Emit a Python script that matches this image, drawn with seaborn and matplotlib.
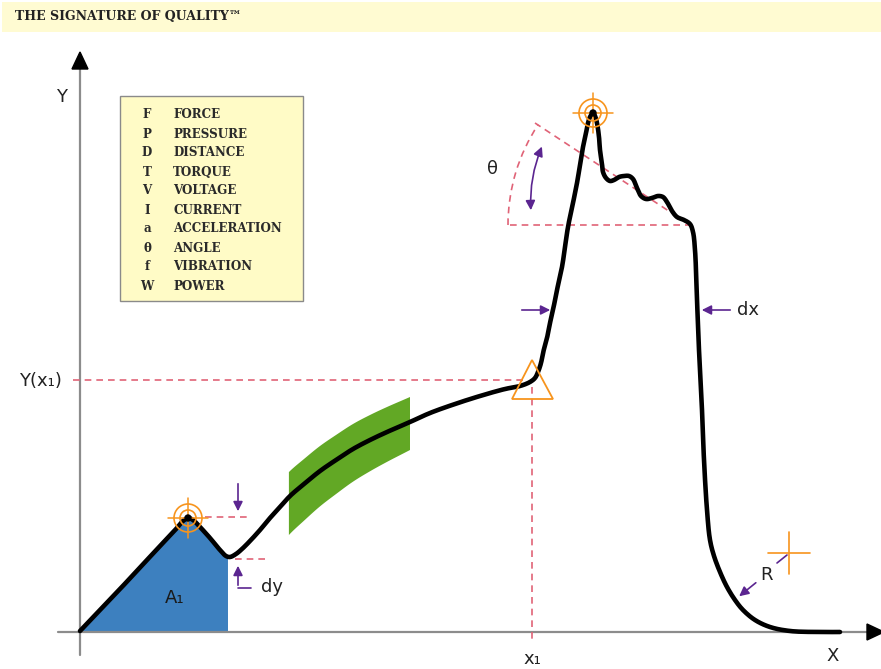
import numpy as np
import pandas as pd
import seaborn as sns
import matplotlib.pyplot as plt
from matplotlib.patches import Circle, Polygon, Rectangle, Arc

# signature curve (pixel coords, y grows downward)
curve_x = [80, 120, 160, 176, 183, 188, 193, 200, 210, 220, 226, 230, 236, 242,
           250, 260, 270, 280, 290, 304, 320, 336, 353, 370, 387, 410, 430, 455,
           480, 505, 520, 530, 535, 538, 541, 543, 547, 550, 553, 557, 562, 568,
           573, 577, 580, 583, 586, 588, 590, 593, 595, 597, 599, 600, 602, 603,
           606, 610, 614, 619, 624, 629, 633, 637, 641, 646, 652, 658, 663, 667,
           672, 677, 684, 690, 693, 695, 697, 699, 702, 704, 707, 710, 714, 720,
           727, 735, 743, 755, 770, 790, 820, 840]
curve_y = [631, 589, 546, 529, 521, 518, 520, 527, 538, 550, 556, 557, 554, 549,
           541, 530, 518, 507, 496, 484, 471, 460, 449, 440, 432, 422, 413, 404,
           396, 389, 386, 382, 378, 372, 363, 353, 338, 323, 310, 290, 267, 227,
           203, 183, 165, 147, 133, 123, 117, 113, 116, 123, 137, 150, 164, 172,
           178, 181, 180, 177, 176, 176, 179, 188, 196, 199, 198, 196, 197, 202,
           211, 217, 220, 224, 232, 250, 300, 350, 410, 460, 510, 540, 556, 572,
           587, 600, 610, 620, 627, 631, 632, 632]

legend_keys = ["F", "P", "D", "T", "V", "I", "a", "θ", "f", "W"]
legend_names = ["FORCE", "PRESSURE", "DISTANCE", "TORQUE", "VOLTAGE",
                "CURRENT", "ACCELERATION", "ANGLE", "VIBRATION", "POWER"]

origin = (80, 632)
peak1 = (188, 518)
valley1 = (230, 557)
peak2 = (593, 113)
x1_point = (532, 380)
r_point = (789, 553)

GRAY = "#8c8c8c"
RED = "#e06377"
ORANGE = "#f7941d"
PURPLE = "#5b2590"
BLUE = "#3d80bf"
GREEN = "#62a825"


def smooth(xs, ys, n=10):
    # centripetal catmull-rom through the read points, only for drawing
    P = np.column_stack([xs, ys]).astype(float)
    P = np.vstack([2 * P[0] - P[1], P, 2 * P[-1] - P[-2]])
    out = []
    for i in range(1, len(P) - 2):
        p0, p1, p2, p3 = P[i - 1:i + 3]
        t0 = 0.0
        t1 = t0 + np.linalg.norm(p1 - p0) ** 0.5
        t2 = t1 + np.linalg.norm(p2 - p1) ** 0.5
        t3 = t2 + np.linalg.norm(p3 - p2) ** 0.5
        t = np.linspace(t1, t2, n, endpoint=False)[:, None]
        a1 = (t1 - t) / (t1 - t0) * p0 + (t - t0) / (t1 - t0) * p1
        a2 = (t2 - t) / (t2 - t1) * p1 + (t - t1) / (t2 - t1) * p2
        a3 = (t3 - t) / (t3 - t2) * p2 + (t - t2) / (t3 - t2) * p3
        b1 = (t2 - t) / (t2 - t0) * a1 + (t - t0) / (t2 - t0) * a2
        b2 = (t3 - t) / (t3 - t1) * a2 + (t - t1) / (t3 - t1) * a3
        out.append((t2 - t) / (t2 - t1) * b1 + (t - t1) / (t2 - t1) * b2)
    out.append(P[-2][None])
    return np.vstack(out)


sns.set_style("white")
fig = plt.figure(figsize=(8.81, 6.69), dpi=100)
ax = fig.add_axes([0, 0, 1, 1])
ax.axis("off")

sm = smooth(curve_x, curve_y)
df = pd.DataFrame({"x": sm[:, 0], "y": sm[:, 1]})

# header band
ax.add_patch(Rectangle((2, 2), 879, 30, facecolor="#fffbd2", edgecolor="none", zorder=0.5))
ax.text(15, 17, "THE SIGNATURE OF QUALITY™", family="DejaVu Serif",
        weight="bold", fontsize=9.0, va="center", color="#222222")

# area A1
left = df[df.x <= 228].to_numpy()
left = np.vstack([left, [[228, origin[1]], [origin[0], origin[1]]]])
ax.add_patch(Polygon(left, closed=True, color=BLUE, lw=0, zorder=0.5))

# green tolerance band around the curve
band = df[(df.x >= 288) & (df.x <= 410)]
frac = (band.x - 288) / (410 - 288)
top = np.column_stack([band.x, band.y - 25])
bot = np.column_stack([band.x, band.y + 38 - 10 * frac])[::-1]
ax.add_patch(Polygon(np.vstack([top, bot]), closed=True, color=GREEN, lw=0, zorder=0.5))

# axes
ax.plot([origin[0], origin[0]], [655, 66], color=GRAY, lw=1.6, zorder=3)
ax.plot([58, 868], [origin[1], origin[1]], color=GRAY, lw=1.6, zorder=3)
ax.add_patch(Polygon([(72, 69), (88, 69), (80, 52)], color="black", zorder=4))
ax.add_patch(Polygon([(867, 624), (867, 640), (884, 632)], color="black", zorder=4))
ax.text(62, 97, "Y", fontsize=13, ha="center", va="center", color="#222222")
ax.text(833, 656, "X", fontsize=13, ha="center", va="center", color="#222222")

# Y(x1) / x1 reference lines
dash = dict(color=RED, lw=1.2, ls=(0, (4, 3)), zorder=3)
ax.plot([73, 525], [x1_point[1], x1_point[1]], **dash)
ax.plot([x1_point[0], x1_point[0]], [387, 643], **dash)
ax.text(40, 381, "Y(x₁)", fontsize=13, ha="center", va="center", color="#222222")
ax.text(x1_point[0], 659, "x₁", fontsize=13, ha="center", va="center", color="#222222")

# dy marks
ax.plot([205, 250], [peak1[1] - 1, peak1[1] - 1], **dash)
ax.plot([235, 266], [valley1[1] + 2, valley1[1] + 2], **dash)
arr = dict(arrowstyle="-|>", color=PURPLE, lw=1.2, mutation_scale=14)
ax.annotate("", xy=(238, 514), xytext=(238, 481), arrowprops=arr, zorder=5)
ax.annotate("", xy=(238, 563), xytext=(238, 588), arrowprops=arr, zorder=5)
ax.plot([238, 251], [588, 588], color=PURPLE, lw=1.2)
ax.text(272, 587, "dy", fontsize=13, ha="center", va="center", color="#222222")
ax.text(175, 598, "A₁", fontsize=13, ha="center", va="center", color="#1a1a1a")

# theta sector
cx, cy, rad = 690, 225, 182
ax.plot([510, cx], [cy, cy], **dash)
ax.plot([535, cx], [123, cy], **dash)
ax.add_patch(Arc((cx, cy), 2 * rad, 2 * rad, theta1=180, theta2=213.5,
                 color=RED, lw=1.2, ls=(0, (4, 3)), zorder=3))
ax.annotate("", xy=(543, 144), xytext=(531, 213),
            arrowprops=dict(arrowstyle="<|-|>", color=PURPLE, lw=1.2,
                            mutation_scale=14, connectionstyle="arc3,rad=-0.12"),
            zorder=5)
ax.text(493, 169, "θ", fontsize=13, ha="center", va="center", color="#222222")

# dx arrows
ax.annotate("", xy=(553, 310), xytext=(519, 310), arrowprops=arr, zorder=5)
ax.annotate("", xy=(699, 310), xytext=(733, 310), arrowprops=arr, zorder=5)
ax.text(748, 310, "dx", fontsize=13, ha="center", va="center", color="#222222")

# main curve
sns.lineplot(data=df, x="x", y="y", sort=False, estimator=None, color="black",
             lw=3.3, ax=ax)
curve_line = ax.lines[-1]
curve_line.set_zorder(6)
curve_line.set_solid_joinstyle("round")
curve_line.set_solid_capstyle("round")
ax.set_xlim(0, 881)
ax.set_ylim(669, 0)
ax.axis("off")

# targets on the peaks
for px, py in [peak1, peak2]:
    for r in (14, 8):
        ax.add_patch(Circle((px, py), r, fill=False, ec=ORANGE, lw=1.2, zorder=7))
    ax.plot([px - 20, px + 20], [py, py], color=ORANGE, lw=1.1, zorder=7)
    ax.plot([px, px], [py - 20, py + 20], color=ORANGE, lw=1.1, zorder=7)
    ax.add_patch(Circle((px, py), 3, color="black", zorder=8))

# triangle at x1
ax.add_patch(Polygon([(532, 360), (512, 399), (553, 399)], closed=True,
                     fill=False, ec=ORANGE, lw=1.3, zorder=7))

# radius mark
ax.plot([768, 810], [r_point[1], r_point[1]], color=ORANGE, lw=1.2, zorder=7)
ax.plot([r_point[0], r_point[0]], [532, 574], color=ORANGE, lw=1.2, zorder=7)
ax.plot([787, 777], [555, 563], color=PURPLE, lw=1.2, zorder=5)
ax.annotate("", xy=(737, 598), xytext=(758, 581), arrowprops=arr, zorder=5)
ax.text(766, 575, "R", fontsize=13, ha="center", va="center", color="#222222")

# legend box
ax.add_patch(Rectangle((120, 96), 183, 205, facecolor="#fffbc6",
                       edgecolor="#8a8a8a", lw=1.0, zorder=4))
for i, (k, name) in enumerate(zip(legend_keys, legend_names)):
    yy = 115 + i * 19
    ax.text(147, yy, k, family="DejaVu Serif", weight="bold", fontsize=8.6,
            ha="center", va="center", color="#2a2a2a", zorder=5)
    ax.text(173, yy, name, family="DejaVu Serif", weight="bold", fontsize=8.6,
            ha="left", va="center", color="#2a2a2a", zorder=5)

fig.savefig("out.png", dpi=100)
